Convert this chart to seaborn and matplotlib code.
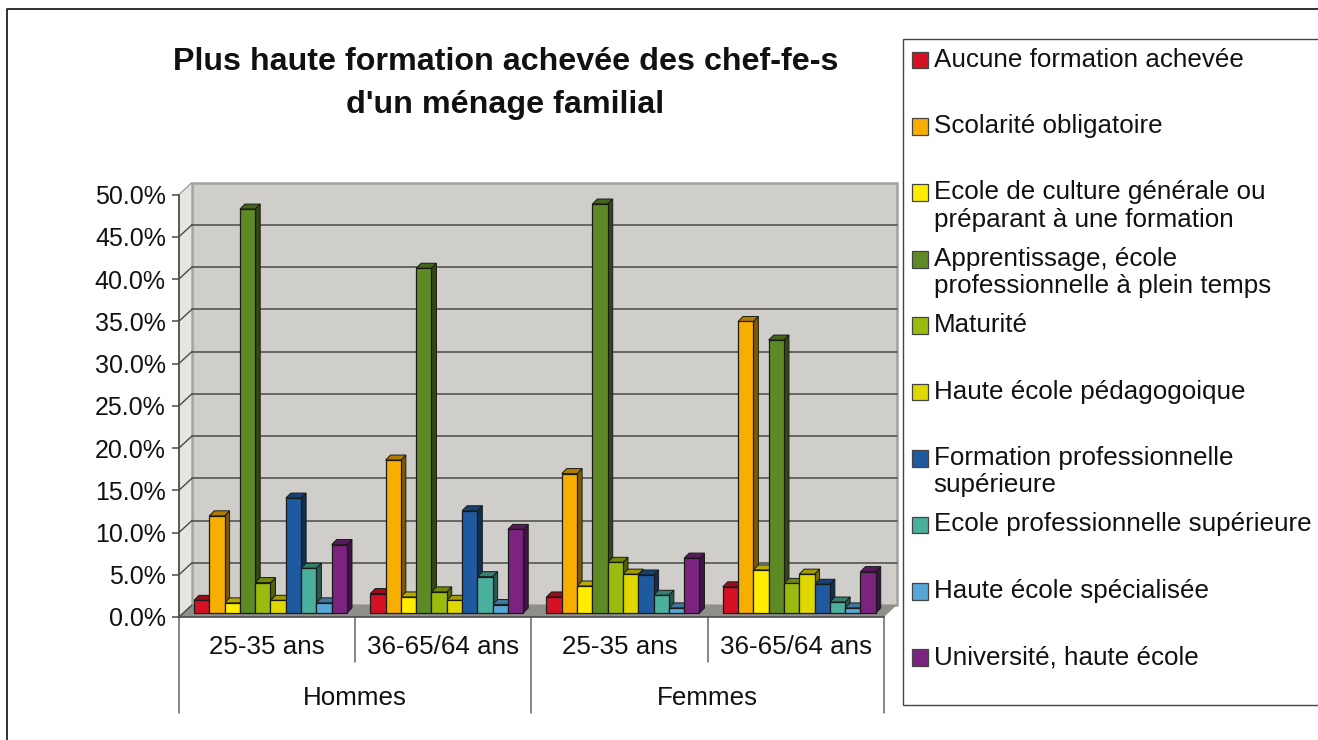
import matplotlib
matplotlib.use("Agg")
import matplotlib.pyplot as plt
import pandas as pd
import seaborn as sns
from matplotlib.colors import to_rgb
from matplotlib.legend_handler import HandlerPatch
from matplotlib.lines import Line2D
from matplotlib.patches import Polygon, Rectangle

# ---------- data ----------
groups = ["Hommes 25-35", "Hommes 36-65/64", "Femmes 25-35", "Femmes 36-65/64"]
age_labels = ["25-35 ans", "36-65/64 ans", "25-35 ans", "36-65/64 ans"]
sex_labels = ["Hommes", "Femmes"]
formations = [
    "Aucune formation achevée",
    "Scolarité obligatoire",
    "Ecole de culture générale ou\npréparant à une formation",
    "Apprentissage, école\nprofessionnelle à plein temps",
    "Maturité",
    "Haute école pédagogoique",
    "Formation professionnelle\nsupérieure",
    "Ecole professionnelle supérieure",
    "Haute école spécialisée",
    "Université, haute école",
]
hommes_jeunes = [1.5, 11.5, 1.2, 47.8, 3.6, 1.5, 13.6, 5.3, 1.2, 8.1]
hommes_ages = [2.3, 18.1, 1.9, 40.8, 2.5, 1.5, 12.1, 4.3, 1.0, 9.9]
femmes_jeunes = [1.9, 16.5, 3.2, 48.4, 6.0, 4.6, 4.5, 2.1, 0.6, 6.5]
femmes_agees = [3.1, 34.5, 5.1, 32.3, 3.5, 4.6, 3.4, 1.3, 0.6, 4.9]
colors = ["#D41224", "#F6AE00", "#FFEC00", "#5E8A25", "#9BBB0E",
          "#DFD800", "#1F5AA0", "#4AAF9C", "#57A6D8", "#7A2480"]
y_ticks = [0, 5, 10, 15, 20, 25, 30, 35, 40, 45, 50]

rows = []
for g, vals in zip(groups, [hommes_jeunes, hommes_ages, femmes_jeunes, femmes_agees]):
    for f, v in zip(formations, vals):
        rows.append({"groupe": g, "formation": f, "part": v})
df = pd.DataFrame(rows)

# ---------- layout (pixels) ----------
W, H, DPI = 1318, 740, 100
LEFT, RIGHT, FRONT0, BAR0 = 179, 884, 617, 613
PX_PER_PCT = 8.45
sns.set_theme(style="white")
plt.rcParams["font.family"] = ["Liberation Sans", "DejaVu Sans"]
FS = 18.7

fig = plt.figure(figsize=(W / DPI, H / DPI), dpi=DPI, facecolor="white")
def box(bottom_px):
    return [LEFT / W, (H - bottom_px) / H, (RIGHT - LEFT) / W, 50 * PX_PER_PCT / H]

# ---------- frame axes: walls, ticks, labels ----------
ax = fig.add_axes(box(FRONT0), facecolor="none", zorder=1)
ax.set_xlim(0, 4)
ax.set_ylim(0, 50)
dx = 13 / (RIGHT - LEFT) * 4
dy = 12 / PX_PER_PCT
ax.add_patch(Rectangle((dx, dy), 4, 50, fc="#CFCECA", ec="#A3A29C", lw=1.8, clip_on=False, zorder=1))
ax.add_patch(Polygon([(0, 0), (0, 50), (dx, 50 + dy), (dx, dy)], fc="#E6E5E2", ec="#A3A29C", lw=1.0, clip_on=False, zorder=1))
ax.add_patch(Polygon([(0, 0), (4, 0), (4 + dx, dy), (dx, dy)], fc="#908E8A", ec="none", clip_on=False, zorder=1.1))
for v in y_ticks[1:-1]:
    ax.plot([dx, 4 + dx], [v + dy, v + dy], color="#4A4A46", lw=1.1, clip_on=False, zorder=1.2)
for v in y_ticks[:-1]:
    ax.plot([0, dx], [v, v + dy], color="#4A4A46", lw=1.0, clip_on=False, zorder=1.2)
ax.set_yticks(y_ticks)
ax.set_yticklabels([f"{v:.1f}%" for v in y_ticks], fontsize=18.0, color="#111111")
ax.set_xticks([0.5, 1.5, 2.5, 3.5])
ax.set_xticklabels(age_labels, fontsize=FS, color="#111111")
ax.tick_params(axis="y", length=5, width=1.1, color="#4A4A46", pad=4.5, left=True)
ax.tick_params(axis="x", length=0, pad=13)
for s in ("top", "right"):
    ax.spines[s].set_visible(False)
for s in ("left", "bottom"):
    ax.spines[s].set_color("#4A4A46")
    ax.spines[s].set_linewidth(1.2)
y_sub = -(662 - FRONT0) / PX_PER_PCT
y_major = -(713 - FRONT0) / PX_PER_PCT
for x, yb in [(1, y_sub), (3, y_sub), (0, y_major), (2, y_major), (4, y_major)]:
    ax.plot([x, x], [0, yb], color="#666666", lw=1.1, clip_on=False)
for x, lab in zip([1, 3], sex_labels):
    ax.text(x, -(698 - FRONT0) / PX_PER_PCT, lab, ha="center", va="center", fontsize=FS, color="#111111")

# ---------- bars ----------
ax_b = fig.add_axes(box(BAR0), facecolor="none", zorder=2)
sns.barplot(data=df, x="groupe", y="part", hue="formation", order=groups, hue_order=formations,
            palette=dict(zip(formations, colors)), saturation=1, width=153 / 176.25, gap=0,
            dodge=True, edgecolor="#1A1A1A", linewidth=0.9, errorbar=None, legend=False, ax=ax_b)
ax_b.set_ylim(0, 50)
centre = (270.5 - LEFT) / 176.25
ax_b.set_xlim(-centre, 4 - centre)
ax_b.set_axis_off()
bx = 5 / 176.25
by = 5 / PX_PER_PCT

def shade(c, k):
    return tuple(i * k for i in to_rgb(c))

for bar in list(ax_b.patches):
    bar.set_zorder(3)
    bar.set_clip_on(False)
    x0, w, h = bar.get_x(), bar.get_width(), bar.get_height()
    c = bar.get_facecolor()[:3]
    ax_b.add_patch(Polygon([(x0 + w, 0), (x0 + w + bx, by), (x0 + w + bx, h + by), (x0 + w, h)],
                           fc=shade(c, 0.52), ec="#1A1A1A", lw=0.7, zorder=2, clip_on=False))
    ax_b.add_patch(Polygon([(x0, h), (x0 + bx, h + by), (x0 + w + bx, h + by), (x0 + w, h)],
                           fc=shade(c, 0.72), ec="#1A1A1A", lw=0.7, zorder=2, clip_on=False))

# ---------- legend ----------
class Swatch(HandlerPatch):
    def create_artists(self, legend, orig, xd, yd, width, height, fontsize, trans):
        p = Rectangle((-xd, -yd + 10.4), 12, 12, fc=orig.get_facecolor(), ec="#444444", lw=0.9)
        p.set_transform(trans)
        return [p]

handles = [Rectangle((0, 0), 1, 1, fc=c) for c in colors]
labels = [f if "\n" in f else f + "\n " for f in formations]
leg = ax_b.legend(handles, labels, handler_map={Rectangle: Swatch()},
                  loc="upper left", bbox_to_anchor=(903 / W, 1 - 39 / H - 0.01, 430 / W, 0.01),
                  bbox_transform=fig.transFigure, mode="expand", borderaxespad=0,
                  frameon=True, fancybox=False, edgecolor="#444444", facecolor="white",
                  framealpha=1, fontsize=FS, labelspacing=0.577, handlelength=0.62,
                  handletextpad=0.23, borderpad=0.33, ncols=1)
leg.get_frame().set_linewidth(1.0)
for t in leg.get_texts():
    t.set_linespacing(1.18)
    t.set_color("#111111")

# ---------- title and outer frame ----------
fig.text(505.5 / W, 1 - 83.5 / H, "Plus haute formation achevée des chef-fe-s\nd'un ménage familial",
         ha="center", va="center", fontsize=23.2, fontweight="bold", color="#111111", linespacing=1.55)
fig.add_artist(Line2D([7 / W, 7 / W, 1], [0, 1 - 9 / H, 1 - 9 / H], color="#222222", lw=1.3))

fig.savefig("out.png", dpi=DPI, facecolor="white")
